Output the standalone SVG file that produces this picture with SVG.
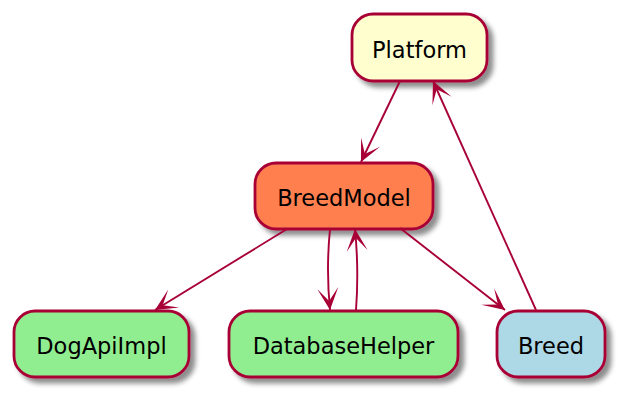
<svg xmlns="http://www.w3.org/2000/svg" width="631" height="404" viewBox="0 0 631 404">
<style>
.node rect{stroke:#A80036;stroke-width:2.8;filter:url(#sh)}
.node text{font-family:"DejaVu Sans","Liberation Sans",sans-serif;font-size:22.5px;fill:#000;text-anchor:middle}
.edge{fill:none;stroke:#A80036;stroke-width:1.9;marker-end:url(#arr)}
</style>
<defs>
<filter id="sh" x="-20%" y="-30%" width="150%" height="170%">
<feGaussianBlur in="SourceAlpha" stdDeviation="2.5"/>
<feOffset dx="5" dy="5" result="b"/>
<feFlood flood-color="#000" flood-opacity="0.45"/>
<feComposite in2="b" operator="in"/>
<feMerge><feMergeNode/><feMergeNode in="SourceGraphic"/></feMerge>
</filter>
<marker id="arr" markerUnits="userSpaceOnUse" orient="auto" viewBox="-24 -12 26 24" refX="0" refY="0" markerWidth="26" markerHeight="24">
<path d="M0,0 L-22,-10.5 L-9,0 L-22,10.5 Z" fill="#A80036"/>
</marker>
</defs>
<g id="Platform" class="node"><rect x="352" y="14" width="135" height="67" rx="21" fill="#FEFECE"/><text x="419.5" y="58">Platform</text></g>
<g id="BreedModel" class="node"><rect x="255" y="163" width="178" height="66" rx="21" fill="#FF7F50"/><text x="344" y="206">BreedModel</text></g>
<g id="DogApiImpl" class="node"><rect x="14" y="311" width="175" height="66" rx="21" fill="#90EE90"/><text x="101.5" y="354">DogApiImpl</text></g>
<g id="DatabaseHelper" class="node"><rect x="229" y="311" width="229" height="66" rx="21" fill="#90EE90"/><text x="343.5" y="354">DatabaseHelper</text></g>
<g id="Breed" class="node"><rect x="497" y="311" width="108" height="66" rx="21" fill="#ADD8E6"/><text x="551" y="354">Breed</text></g>
<g id="connectors">
<path class="edge" d="M400,81 L361,162"/>
<path class="edge" d="M287,229 L155,310"/>
<path class="edge" d="M330,229 Q326,270 330,310"/>
<path class="edge" d="M356,310 Q359,270 355,229"/>
<path class="edge" d="M400,228 L505,310"/>
<path class="edge" d="M536,310 L433,81"/>
</g>
</svg>
